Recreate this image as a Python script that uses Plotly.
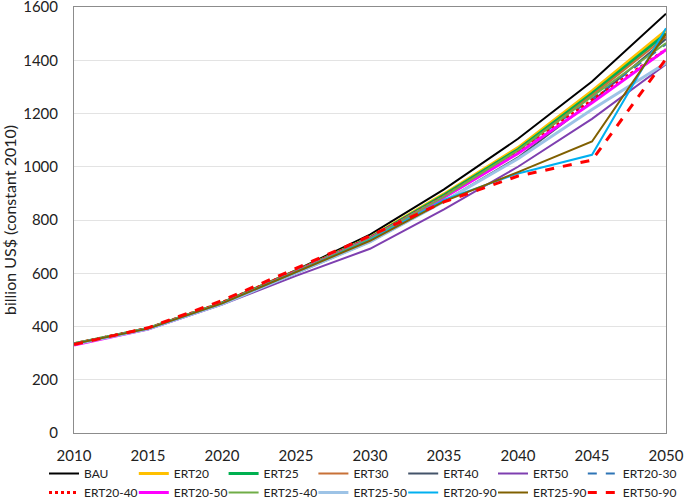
import plotly.graph_objects as go

years = [2010, 2015, 2020, 2025, 2030, 2035, 2040, 2045, 2050]

BAU      = [335, 393, 490, 612, 745, 915, 1105, 1320, 1575]
ERT20    = [335, 393, 488, 608, 735, 898, 1072, 1285, 1512]
ERT25    = [335, 393, 488, 607, 733, 894, 1065, 1275, 1500]
ERT30    = [335, 393, 488, 606, 730, 890, 1060, 1268, 1488]
ERT40    = [335, 392, 486, 600, 718, 870, 1035, 1245, 1480]
ERT50    = [333, 390, 482, 590, 692, 840, 1000, 1180, 1385]
ERT20_30 = [335, 393, 488, 606, 730, 888, 1060, 1255, 1460]
ERT20_40 = [335, 393, 490, 608, 732, 888, 1055, 1250, 1440]
ERT20_50 = [330, 390, 485, 605, 730, 885, 1050, 1240, 1440]
ERT25_40 = [335, 393, 488, 606, 730, 888, 1062, 1262, 1465]
ERT25_50 = [333, 390, 484, 600, 718, 870, 1030, 1215, 1390]
ERT20_90 = [335, 392, 487, 604, 725, 875, 975, 1045, 1520]
ERT25_90 = [335, 392, 487, 603, 722, 870, 980, 1095, 1500]
ERT50_90 = [332, 395, 497, 618, 740, 868, 965, 1025, 1405]

# name, values, colour, width, dash, legend column
series = [
    ("BAU", BAU, "#000000", 2, "solid", 0),
    ("ERT20", ERT20, "#FFC000", 3, "solid", 1),
    ("ERT25", ERT25, "#00B050", 3, "solid", 2),
    ("ERT30", ERT30, "#C87137", 2, "solid", 3),
    ("ERT40", ERT40, "#44546A", 2, "solid", 4),
    ("ERT50", ERT50, "#7E3FB0", 2, "solid", 5),
    ("ERT20-30", ERT20_30, "#2E75B6", 2, "dash", 6),
    ("ERT20-40", ERT20_40, "#FF0000", 3, "dot", 0),
    ("ERT20-50", ERT20_50, "#FF00FF", 3, "solid", 1),
    ("ERT25-40", ERT25_40, "#70AD47", 2, "solid", 2),
    ("ERT25-50", ERT25_50, "#9DC3E6", 3, "solid", 3),
    ("ERT20-90", ERT20_90, "#00B0F0", 2, "solid", 4),
    ("ERT25-90", ERT25_90, "#806000", 2, "solid", 5),
    ("ERT50-90", ERT50_90, "#FF0000", 3, "dash", 6),
]

def legend_id(col):
    return "legend" if col == 0 else f"legend{col + 1}"

fig = go.Figure()
for name, vals, color, width, dash, col in series:
    fig.add_trace(go.Scatter(
        x=years, y=vals, name=name, mode="lines",
        line=dict(color=color, width=width, dash=dash),
        legend=legend_id(col),
    ))

TOP, BOTTOM_PX = 7, 433
PLOT_H = BOTTOM_PX - TOP

font_family = "Lato, 'Open Sans', sans-serif"
legend_common = dict(
    orientation="v", xref="paper", yref="paper",
    xanchor="left", yanchor="top",
    font=dict(family=font_family, size=12, color="#222"),
    itemwidth=30, bgcolor="rgba(0,0,0,0)", tracegroupgap=0,
)

legends = {}
for col in range(7):
    text_x = 84 + 89.8 * col
    legends[legend_id(col)] = dict(
        **legend_common,
        x=(text_x - 40 - 74) / 592,
        y=(BOTTOM_PX - 459) / PLOT_H,
    )

fig.update_layout(
    width=685, height=499,
    margin=dict(l=74, r=19, t=TOP, b=499 - BOTTOM_PX, autoexpand=False),
    paper_bgcolor="white", plot_bgcolor="white",
    font=dict(family=font_family, size=15, color="#222"),
    showlegend=True,
    **legends,
)
fig.update_xaxes(
    range=[2010, 2050], tickvals=[2010, 2015, 2020, 2025, 2030, 2035, 2040, 2045, 2050],
    showgrid=False, showline=True, linecolor="#8c8c8c", linewidth=1, mirror=True,
    ticks="", zeroline=False, tickfont=dict(size=15),
    ticklabelstandoff=9, ticklabeloverflow="allow",
)
fig.update_yaxes(
    range=[0, 1600], dtick=200,
    showgrid=True, gridcolor="#e3e3e3", gridwidth=1,
    showline=True, linecolor="#8c8c8c", linewidth=1, mirror=True,
    ticks="", zeroline=False, tickfont=dict(size=15),
    ticklabelstandoff=12, ticklabeloverflow="allow",
    title=dict(text="billion US$ (constant 2010)", font=dict(size=16), standoff=6),
)

fig.write_html("out.html", config={"displayModeBar": False},
               post_script="document.body.style.margin='0';")
